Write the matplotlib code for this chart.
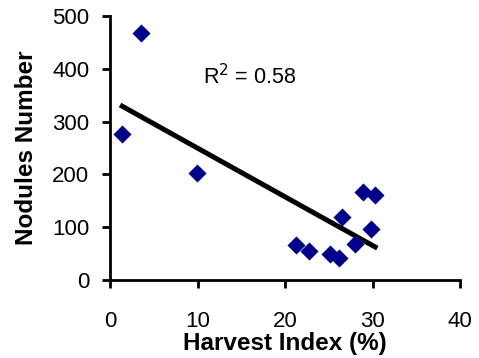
import matplotlib
matplotlib.use("Agg")
import matplotlib.pyplot as plt
import numpy as np

plt.rcParams['font.family'] = ['Liberation Sans', 'DejaVu Sans']

harvest_index = [1.4, 3.5, 9.9, 21.3, 22.7, 25.1, 26.2, 26.5, 28.0, 28.9, 29.8, 30.3]
nodules = [276, 467, 202, 66, 55, 49, 41, 119, 68, 166, 96, 161]
x_ticks = [0, 10, 20, 30, 40]
y_ticks = [0, 100, 200, 300, 400, 500]

fig = plt.figure(figsize=(4.79, 3.58), dpi=100)
ax = fig.add_axes([110/479, 1-280/358, 350/479, 264/358])

ax.scatter(harvest_index, nodules, marker='D', s=85, color='#00008B', zorder=3, linewidths=0)

xa = np.array(harvest_index)
ya = np.array(nodules)
m, b = np.polyfit(xa, ya, 1)
xl = np.array([xa.min(), xa.max()])
ax.plot(xl, m*xl + b, color='black', lw=3.6, zorder=2)

ax.text(10.6, 386, 'R$^2$ = 0.58', fontsize=15.5, va='center', ha='left')

ax.set_xlim(0, 40)
ax.set_ylim(0, 500)
ax.set_xticks(x_ticks)
ax.set_yticks(y_ticks)
for s in ['top', 'right']:
    ax.spines[s].set_visible(False)
for s in ['left', 'bottom']:
    ax.spines[s].set_linewidth(2)
ax.tick_params(axis='both', labelsize=16, width=2)
ax.tick_params(axis='y', direction='out', length=6, pad=9)
ax.tick_params(axis='x', direction='out', length=6, pad=16)
ax.set_xlabel('Harvest Index (%)', fontsize=17.5, fontweight='bold', labelpad=0)
ax.set_ylabel('Nodules Number', fontsize=17.5, fontweight='bold', labelpad=10)

fig.savefig('out.png', dpi=100)
